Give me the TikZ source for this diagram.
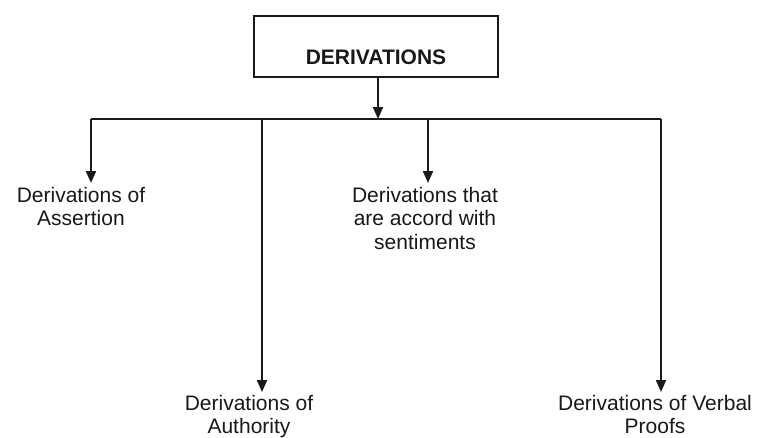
\documentclass[tikz,border=0pt]{standalone}
\usepackage{fontspec}
\setmainfont{Liberation Sans}
\usetikzlibrary{arrows.meta}
\definecolor{ink}{RGB}{25,25,25}
\begin{document}
\begin{tikzpicture}[x=1pt,y=-1pt,
  conn/.style={draw=ink,line width=2pt},
  arr/.style={conn,-{Triangle[length=12pt,width=10pt]}},
  lbl/.style={align=center,inner sep=0pt,anchor=north,text=ink,font=\fontsize{21}{23.5}\selectfont},
  topbox/.style={draw=ink,line width=2pt,minimum width=244pt,inner xsep=0pt,inner ysep=0pt,
    text height=48pt,text depth=13pt,anchor=south,text=ink,font=\bfseries\fontsize{21}{24}\selectfont}]
\useasboundingbox (0,0) rectangle (757,437);
\fill[white] (0,0) rectangle (757,437);
\node[topbox] (root) at (376,78) {DERIVATIONS};
\node[lbl] (a1) at (81,187) {Derivations of\\Assertion};
\node[lbl] (a2) at (249,395) {Derivations of\\Authority};
\node[lbl] (a3) at (425,187) {Derivations that\\are accord with\\sentiments};
\node[lbl] (a4) at (655,395) {Derivations of Verbal\\Proofs};
\coordinate (j1) at (91,119);
\coordinate (j2) at (262,119);
\coordinate (j3) at (428,119);
\coordinate (j4) at (661,119);
\coordinate (jr) at (378,119);
\draw[conn] (j1) -- (j4);
\draw[arr] (root.south -| jr) -- (jr);
\draw[arr,shorten >=4pt] (j1) -- (j1 |- a1.north);
\draw[arr,shorten >=3pt] (j2) -- (j2 |- a2.north);
\draw[arr,shorten >=4pt] (j3) -- (j3 |- a3.north);
\draw[arr,shorten >=3pt] (j4) -- (j4 |- a4.north);
\end{tikzpicture}
\end{document}
